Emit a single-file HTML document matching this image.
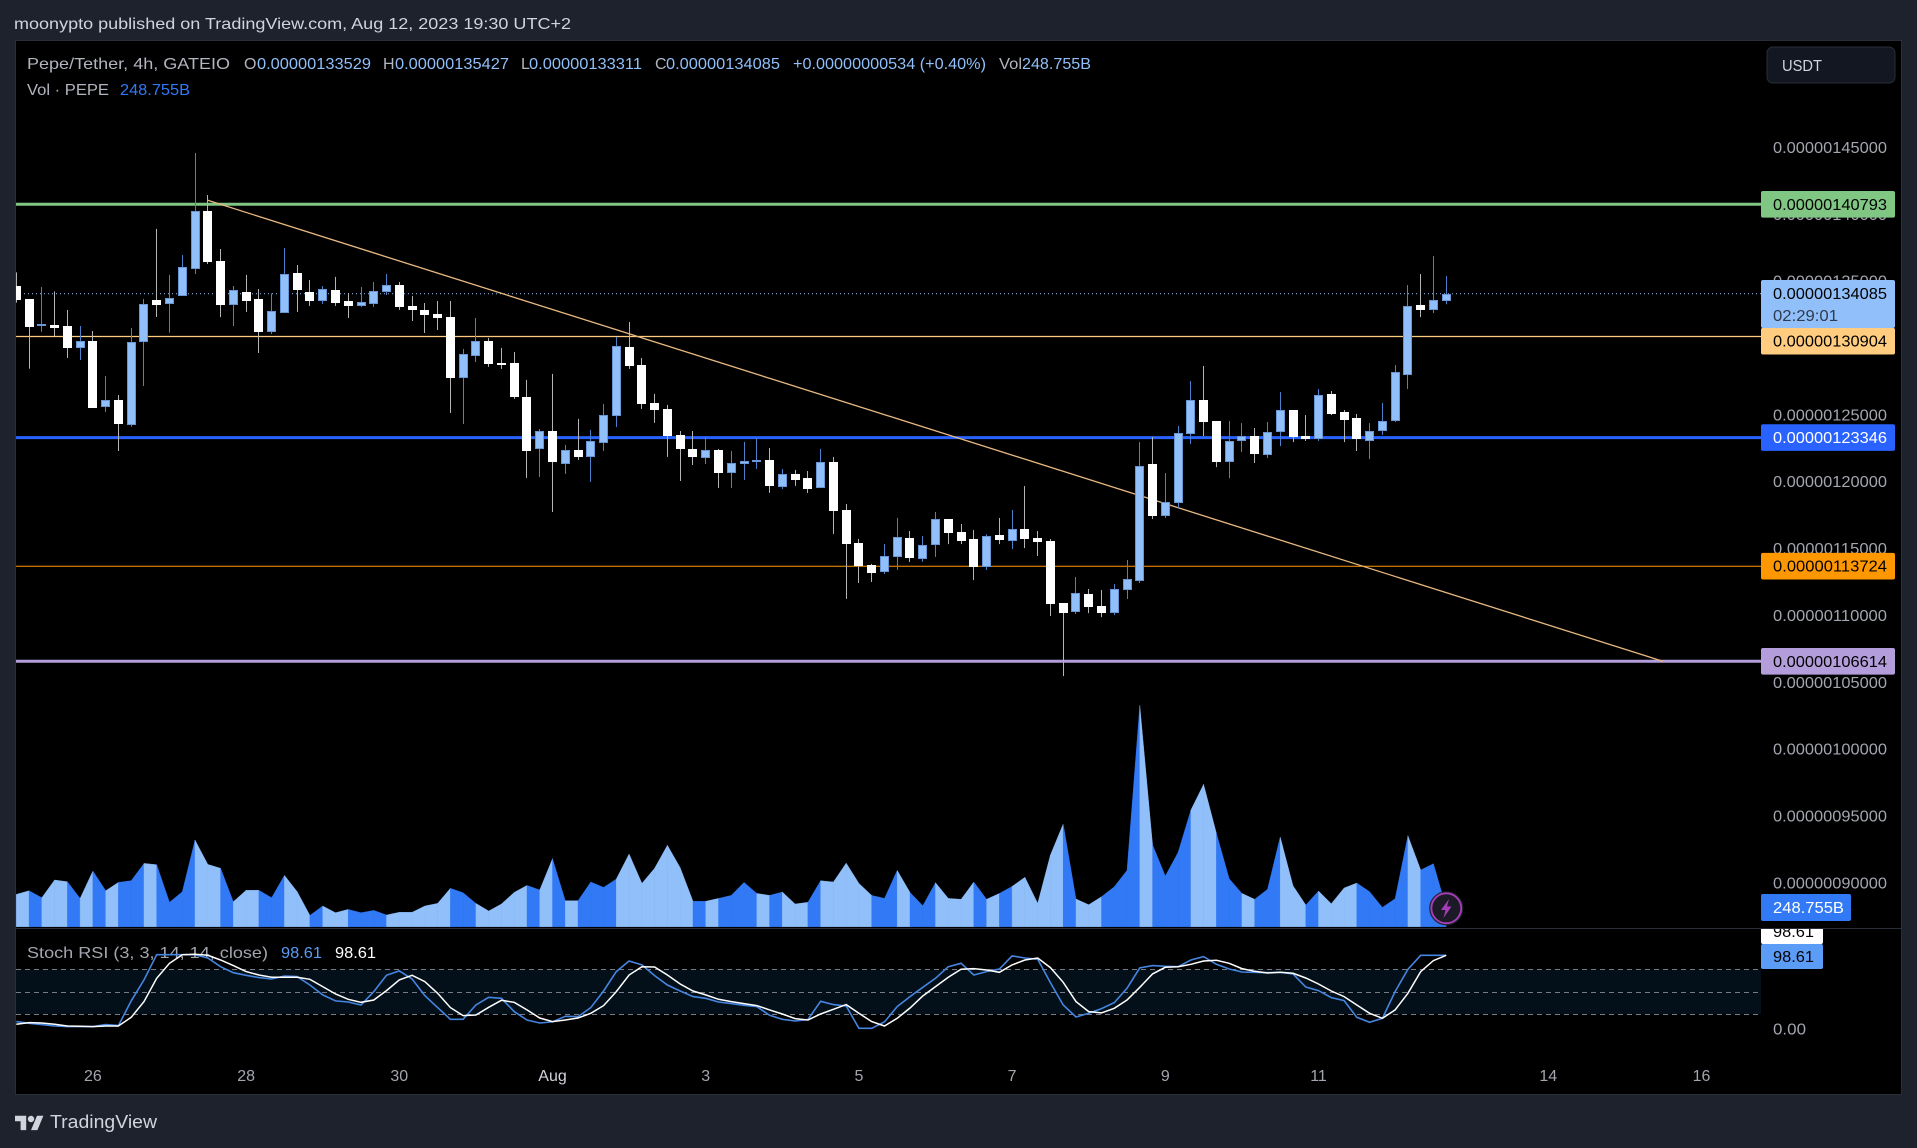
<!DOCTYPE html>
<html lang="en">
<head>
<meta charset="utf-8">
<title>Pepe/Tether 4h chart</title>
<style>
html,body{margin:0;padding:0;background:#1e222d;width:1917px;height:1148px;overflow:hidden}
svg{display:block}
text{font-family:"Liberation Sans",Arial,sans-serif;font-size:16px}
</style>
</head>
<body>
<svg id="root" xmlns="http://www.w3.org/2000/svg" width="1917" height="1148" viewBox="0 0 1917 1148">
  <defs>
    <clipPath id="plot-clip"><rect x="16" y="41" width="1745" height="887"/></clipPath>
    <clipPath id="stoch-clip"><rect x="16" y="929" width="1745" height="130"/></clipPath>
    <clipPath id="scale-clip"><rect x="1761" y="929" width="140" height="165"/></clipPath>
  </defs>
  <rect x="0" y="0" width="1917" height="1148" fill="#1e222d"/>
  <text x="14" y="29" fill="#d1d4dc" textLength="557" lengthAdjust="spacingAndGlyphs">moonypto published on TradingView.com, Aug 12, 2023 19:30 UTC+2</text>
  <rect x="15.5" y="40.5" width="1886" height="1054" fill="#000" stroke="#2a2e39"/>
  <g id="price-ticks"></g>
  <g id="time-ticks"></g>
  <g clip-path="url(#plot-clip)">
    <g id="levels"></g>
    <line id="last-price-line" stroke="#90bff9" stroke-width="1" stroke-dasharray="1 3"/>
    <line id="trendline" stroke="#e8b980" stroke-width="1.3"/>
    <g id="volume"></g>
    <g id="candles"></g>
  </g>
  <line x1="16" x2="1901" y1="928.5" y2="928.5" stroke="#2a2e39"/>
  <g id="stoch-guides"></g>
  <g>
    <text x="27" y="958" fill="#a3a6af" textLength="241" lengthAdjust="spacingAndGlyphs">Stoch RSI (3, 3, 14, 14, close)</text>
    <text x="281" y="958" fill="#5b9cf6" textLength="41" lengthAdjust="spacingAndGlyphs">98.61</text>
    <text x="335" y="958" fill="#ffffff" textLength="41" lengthAdjust="spacingAndGlyphs">98.61</text>
  </g>
  <g clip-path="url(#stoch-clip)">
    <path id="stoch-k" fill="none" stroke="#4585e0" stroke-width="1.6"/>
    <path id="stoch-d" fill="none" stroke="#ffffff" stroke-width="1.5"/>
  </g>
  <g id="level-labels"></g>
  <g>
    <text x="27" y="69" fill="#b2b5be" textLength="203" lengthAdjust="spacingAndGlyphs">Pepe/Tether, 4h, GATEIO</text>
    <text x="244" y="69" fill="#b2b5be">O</text>
    <text x="257" y="69" fill="#90bff9" textLength="114" lengthAdjust="spacingAndGlyphs">0.00000133529</text>
    <text x="383" y="69" fill="#b2b5be">H</text>
    <text x="395" y="69" fill="#90bff9" textLength="114" lengthAdjust="spacingAndGlyphs">0.00000135427</text>
    <text x="521" y="69" fill="#b2b5be">L</text>
    <text x="529" y="69" fill="#90bff9" textLength="113" lengthAdjust="spacingAndGlyphs">0.00000133311</text>
    <text x="655" y="69" fill="#b2b5be">C</text>
    <text x="666" y="69" fill="#90bff9" textLength="114" lengthAdjust="spacingAndGlyphs">0.00000134085</text>
    <text x="793" y="69" fill="#90bff9" textLength="193" lengthAdjust="spacingAndGlyphs">+0.00000000534 (+0.40%)</text>
    <text x="999" y="69" fill="#b2b5be" textLength="23" lengthAdjust="spacingAndGlyphs">Vol</text>
    <text x="1022" y="69" fill="#90bff9" textLength="69" lengthAdjust="spacingAndGlyphs">248.755B</text>
    <text x="27" y="95" fill="#b2b5be" textLength="82" lengthAdjust="spacingAndGlyphs">Vol · PEPE</text>
    <text x="120" y="95" fill="#3179f5" textLength="70" lengthAdjust="spacingAndGlyphs">248.755B</text>
  </g>
  <g>
    <rect x="1767" y="47" width="128" height="36" rx="6" fill="#131722" stroke="#2a2e39"/>
    <text x="1782" y="71" fill="#d1d4dc" textLength="40" lengthAdjust="spacingAndGlyphs">USDT</text>
  </g>
  <g>
    <circle cx="1446.3" cy="908.3" r="15" fill="#1c1a26" stroke="#a63db8" stroke-width="2"/>
    <circle cx="1446.3" cy="908.3" r="16.5" fill="none" stroke="#20222c" stroke-width="1.2"/>
    <polygon points="1449,899 1441,910 1445.5,910 1443.5,918 1451.5,906.5 1447,906.5" fill="#a63db8"/>
  </g>
  <g>
    <path fill="#d1d4dc" transform="translate(15 1112.5) scale(.8)" d="M14 22H7V11H0V4h14v18zM28 22h-8l7.5-18h8L28 22z"/>
    <circle cx="31" cy="1119" r="3.2" fill="#d1d4dc"/>
    <text x="50" y="1128" fill="#d1d4dc" style="font-size:18px" textLength="107" lengthAdjust="spacingAndGlyphs">TradingView</text>
  </g>
</svg>
<script>
// Prices are in units of 0.00000001 USDT; volumes in billions of PEPE.
const openP = [134.68,133.71,131.69,131.77,131.69,130.07,130.57,125.66,126.16,124.31,130.52,133.64,133.36,133.96,135.98,140.29,136.55,133.29,134.23,133.71,131.27,132.69,135.66,134.23,133.59,134.38,133.56,133.21,133.36,134.26,134.76,133.19,132.89,132.59,132.36,127.83,129.48,130.55,128.93,128.93,126.39,122.52,123.84,121.40,122.42,121.92,122.97,124.99,130.12,128.78,125.94,125.49,123.54,122.50,121.85,122.42,120.73,121.40,121.55,121.67,119.68,120.63,120.33,119.60,121.52,117.93,115.47,113.82,113.32,114.44,115.84,114.29,115.34,117.23,116.28,115.76,113.69,116.06,115.63,116.48,115.83,115.61,110.97,110.32,111.64,110.75,110.25,111.97,112.64,121.37,117.50,118.48,123.64,126.15,124.58,121.54,123.11,123.46,122.07,123.79,125.41,123.46,123.26,126.60,125.26,124.81,123.11,123.86,124.58,128.05,133.26,132.91,133.529];
const highP = [135.70,133.71,134.61,134.28,132.89,131.69,131.32,127.95,126.53,131.54,133.71,138.95,135.51,137.00,144.63,141.49,137.45,134.68,135.51,134.46,134.13,137.52,136.25,135.13,134.68,135.36,134.16,134.61,134.98,135.58,134.98,133.93,133.41,133.56,133.56,129.97,132.29,130.80,130.05,129.75,127.66,123.99,128.11,122.80,124.74,123.92,125.86,130.87,131.99,129.30,126.61,125.79,123.84,123.84,123.39,122.50,122.35,123.02,123.32,122.57,121.00,120.93,120.85,122.50,121.90,118.38,115.77,113.90,115.39,117.34,116.36,115.99,117.78,117.23,116.88,116.43,116.11,117.33,117.93,119.72,116.36,115.76,110.97,112.92,112.02,111.94,112.39,114.19,123.01,123.39,120.69,124.21,127.57,128.70,124.58,124.58,124.43,124.06,124.51,126.75,125.41,125.03,126.98,126.83,125.41,125.11,124.43,125.93,128.77,134.75,135.58,136.92,135.427];
const lowP = [133.44,128.50,131.27,130.94,129.30,129.15,125.56,125.26,122.34,124.16,127.20,132.36,131.19,133.96,135.58,136.33,132.36,131.69,132.74,129.67,131.09,132.69,132.74,133.19,133.34,133.19,132.29,133.11,133.11,134.01,132.89,132.07,131.17,131.39,125.18,124.36,129.00,128.63,128.48,126.24,120.33,120.40,117.78,120.63,121.67,120.03,122.35,124.14,128.48,125.49,124.44,121.90,120.10,121.30,121.37,119.58,119.58,120.18,121.00,119.21,119.50,119.73,119.21,119.60,116.14,111.28,112.47,112.55,113.15,113.45,114.05,114.05,114.42,115.38,115.38,112.69,113.44,115.38,115.01,115.08,114.49,110.00,105.51,110.15,110.22,109.92,110.07,111.27,112.47,117.25,117.33,118.08,122.86,123.46,121.14,120.32,122.26,121.44,121.82,122.71,123.01,123.09,123.09,125.03,123.01,122.34,121.74,123.54,124.51,126.98,132.36,132.66,133.311];
const closeP = [133.64,131.62,131.84,131.54,130.05,130.54,125.56,126.13,124.36,130.47,133.31,133.26,133.76,136.08,140.27,136.48,133.26,134.36,133.56,131.24,132.79,135.56,134.38,133.56,134.43,133.41,133.19,133.46,134.28,134.73,133.11,132.89,132.51,132.29,127.80,129.57,130.55,128.85,128.80,126.39,122.35,123.82,121.52,122.40,121.90,123.07,125.01,130.17,128.70,125.86,125.41,123.47,122.50,121.90,122.40,120.70,121.42,121.57,121.65,119.73,120.60,120.18,119.50,121.50,117.86,115.39,113.75,113.22,114.47,115.89,114.34,115.29,117.24,116.21,115.61,113.66,115.96,115.68,116.48,115.76,115.53,110.90,110.22,111.69,110.67,110.22,111.99,112.74,121.19,117.48,118.50,123.66,126.13,124.51,121.52,123.06,123.44,122.12,123.74,125.38,123.39,123.24,126.50,125.11,124.66,123.24,123.81,124.56,128.22,133.16,132.88,133.61,134.085];
const volumes = [423,471,380,611,589,371,729,471,580,602,829,812,319,458,1134,816,764,327,476,476,380,672,458,148,271,183,227,183,214,153,188,188,271,305,502,445,305,205,297,449,541,480,890,340,340,585,515,624,951,567,764,1065,772,332,332,371,410,580,436,410,454,297,319,602,585,833,567,410,371,737,449,275,576,371,358,585,358,436,528,646,305,938,1344,362,288,393,524,737,2897,1069,663,973,1527,1863,1222,628,436,358,489,1174,537,284,467,301,506,572,458,253,366,1191,742,825,248.755];
const stochK = [10.2,8.0,6.2,4.4,3.6,3.6,3.6,6.2,4.9,37.8,65.8,99.5,99.5,99.5,99.5,95.1,83.5,75.5,72.0,68.9,67.1,71.1,70.2,59.1,45.8,37.8,36.4,32.4,50.2,72.0,77.8,67.1,44.9,28.9,13.3,13.3,32.4,42.7,41.3,23.6,12.4,8.4,9.8,17.3,16.9,28.9,51.1,76.9,91.1,85.8,71.6,59.1,51.1,43.6,41.3,36.4,34.2,32.0,30.2,18.7,13.3,11.1,12.9,37.3,32.9,31.1,1.3,1.3,9.8,30.2,43.6,56.0,68.0,83.5,88.0,72.4,76.9,80.4,97.8,95.1,93.3,62.2,32.4,16.4,21.3,27.6,35.6,54.7,81.8,84.9,84.0,83.5,92.4,96.9,86.7,80.4,76.4,76.0,75.5,76.0,73.8,56.4,51.6,42.2,38.2,16.0,9.3,14.7,50.2,80.0,98.61,98.61,98.61];
const stochD = [6.7,8.9,8.4,6.7,4.4,4.0,3.6,4.4,4.4,16.0,36.9,68.0,88.0,99.5,100,98.6,92.4,84.9,76.9,72.4,69.3,69.3,69.3,66.7,56.9,47.1,40.0,36.0,39.1,51.6,65.8,72.0,63.6,48.0,28.9,18.2,19.1,29.3,38.7,36.0,25.8,15.1,10.2,12.4,15.1,21.3,31.6,50.2,72.4,83.5,83.1,72.4,60.4,51.1,45.8,40.0,36.9,34.2,31.6,25.8,20.4,14.2,12.4,20.4,26.7,32.9,21.3,10.2,4.4,14.7,28.4,44.4,56.9,69.3,80.0,80.9,79.1,76.0,85.8,92.4,95.1,82.2,62.7,36.9,23.6,21.8,28.0,39.1,56.0,73.8,82.7,83.5,86.7,91.1,92.0,88.0,80.9,77.3,75.1,76.0,74.7,68.4,60.4,51.1,43.6,32.4,21.3,14.7,25.8,48.0,76.9,91.6,98.61];
const priceTicks = [145,140,135,130,125,120,115,110,105,100,95,90];
const timeTickLabels = ['26','28','30','Aug','3','5','7','9','11','14','16'];
const timeTickIndex = [6,18,30,42,54,66,78,90,102,120,132];
const levelPrices = [140.793,130.904,123.346,113.724,106.614];
const trendIndex = [15,129];
const trendPrice = [141.09,106.61];
const stochBands = [80,50,20];

// Axis functions
function xAt(i){ return 16.3 + 12.767 * i; }
function yPrice(p){ return 204.3 + (140.793 - p) * 13.371; }
function yVolume(v){ return 926.7 - v * 0.0764; }
function yStoch(s){ return 1029.3 - s * 0.75; }
function fmtPrice(p){ return (p / 1e8).toFixed(11); }

const NS = 'http://www.w3.org/2000/svg';
function mk(parent, tag, attrs, content){
  const el = document.createElementNS(NS, tag);
  for (const k in attrs) el.setAttribute(k, attrs[k]);
  if (content !== undefined) el.textContent = content;
  parent.appendChild(el);
  return el;
}
const levelLook = [
  {line:'#81c784', w:3,   bg:'#81c784', fg:'#000', shift:0},
  {line:'#ffcc80', w:1.3, bg:'#ffcc80', fg:'#000', shift:4.7},
  {line:'#2962ff', w:3,   bg:'#2962ff', fg:'#fff', shift:0},
  {line:'#ff9800', w:1,   bg:'#ff9800', fg:'#000', shift:0},
  {line:'#b39ddb', w:3,   bg:'#b39ddb', fg:'#000', shift:0}
];

// Price axis ticks
const priceG = document.getElementById('price-ticks');
priceTicks.forEach(function(p){
  const t = mk(priceG, 'text', {x:1773, y:(yPrice(p) - 0.6 + 5.5).toFixed(1), fill:'#a3a6af', textLength:114, lengthAdjust:'spacingAndGlyphs'}, fmtPrice(p));
  
  
});
const zeroTick = mk(priceG, 'text', {x:1773, y:(yStoch(0) + 5).toFixed(1), fill:'#a3a6af', textLength:33, lengthAdjust:'spacingAndGlyphs'}, '0.00');



// Time axis ticks
const timeG = document.getElementById('time-ticks');
timeTickLabels.forEach(function(lab, k){
  const t = mk(timeG, 'text', {x:xAt(timeTickIndex[k]).toFixed(1), y:1081, fill:lab === 'Aug' ? '#d1d4dc' : '#a3a6af', 'text-anchor':'middle'}, lab);
  
  
});

// Horizontal levels
const levelsG = document.getElementById('levels');
levelPrices.forEach(function(p, k){
  const y = yPrice(p);
  const l = mk(levelsG, 'line', {x1:16, x2:1761, y1:y.toFixed(1), y2:y.toFixed(1), stroke:levelLook[k].line, 'stroke-width':levelLook[k].w});
  
  
});

// Last price dotted line
const lastIdx = closeP.length - 1;
const lastLine = document.getElementById('last-price-line');
lastLine.setAttribute('x1', 16);
lastLine.setAttribute('x2', 1761);
lastLine.setAttribute('y1', (yPrice(closeP[lastIdx]) - 0.2).toFixed(1));
lastLine.setAttribute('y2', (yPrice(closeP[lastIdx]) - 0.2).toFixed(1));

// Trendline
const trend = document.getElementById('trendline');
trend.setAttribute('x1', xAt(trendIndex[0]).toFixed(1));
trend.setAttribute('y1', yPrice(trendPrice[0]).toFixed(1));
trend.setAttribute('x2', xAt(trendIndex[1]).toFixed(1));
trend.setAttribute('y2', yPrice(trendPrice[1]).toFixed(1));

// Volume area: each segment takes its colour from the candle on its right
const volG = document.getElementById('volume');
for (let i = 0; i < volumes.length - 1; i++){
  const up = closeP[i + 1] >= openP[i + 1];
  const col = up ? '#3179f5' : '#90bff9';
  const base = yVolume(0);
  const pts = [
    xAt(i).toFixed(1) + ',' + base.toFixed(1),
    xAt(i).toFixed(1) + ',' + yVolume(volumes[i]).toFixed(1),
    xAt(i + 1).toFixed(1) + ',' + yVolume(volumes[i + 1]).toFixed(1),
    xAt(i + 1).toFixed(1) + ',' + base.toFixed(1)
  ].join(' ');
  const seg = mk(volG, 'polygon', {points:pts, fill:col, stroke:col, 'stroke-width':0.4});
  
  
}

// Candles
const candleG = document.getElementById('candles');
for (let i = 0; i < openP.length; i++){
  const up = closeP[i] >= openP[i];
  const left = Math.round(xAt(i) - 4.5);
  const top = Math.round(yPrice(Math.max(openP[i], closeP[i])));
  const bot = Math.round(yPrice(Math.min(openP[i], closeP[i])));
  const hi = yPrice(highP[i]);
  const lo = yPrice(lowP[i]);
  const wick = mk(candleG, 'rect', {x:left + 4, y:hi.toFixed(1), width:1, height:(lo - hi).toFixed(1), fill:up ? '#4a80cc' : '#b4b4b4'});
  
  
  let body;
  if (up) {
    body = mk(candleG, 'rect', {x:left + 0.5, y:top + 0.5, width:8, height:Math.max(bot - top - 1, 1), fill:'#90bff9', stroke:'#6896d6', 'stroke-width':1});
  } else {
    body = mk(candleG, 'rect', {x:left, y:top, width:9, height:Math.max(bot - top, 2), fill:'#ffffff'});
  }
  
  
}

// Stoch RSI guides
const guideG = document.getElementById('stoch-guides');
const band = mk(guideG, 'rect', {x:16, y:yStoch(stochBands[0]).toFixed(1), width:1745, height:(yStoch(stochBands[2]) - yStoch(stochBands[0])).toFixed(1), fill:'#03101a'});


stochBands.forEach(function(s){
  const y = Math.round(yStoch(s)) + 0.5;
  const l = mk(guideG, 'line', {x1:16, x2:1761, y1:y, y2:y, stroke:'#787b86', 'stroke-dasharray':'5 4'});
  
  
});

// Stoch RSI lines
function stochPath(arr){
  return arr.map(function(v, i){ return (i ? 'L' : 'M') + xAt(i).toFixed(1) + ' ' + yStoch(v).toFixed(1); }).join('');
}
document.getElementById('stoch-k').setAttribute('d', stochPath(stochK));
document.getElementById('stoch-d').setAttribute('d', stochPath(stochD));

// Right-hand value labels
const labelG = document.getElementById('level-labels');
function tag(parentName, cy, h, bg, fg, w, str, tw){
  const r = mk(labelG, 'rect', {x:1761, y:(cy - h / 2).toFixed(1), width:w, height:h, rx:2, fill:bg});
  
  
  const t = mk(labelG, 'text', {x:1773, y:(cy + 5.5).toFixed(1), fill:fg, textLength:tw, lengthAdjust:'spacingAndGlyphs'}, str);
  
  
}
levelPrices.forEach(function(p, k){
  tag('level-label', yPrice(p) + levelLook[k].shift, 26.6, levelLook[k].bg, levelLook[k].fg, 134, fmtPrice(p), 114);
});

// Current price label with countdown
const priceBox = mk(labelG, 'rect', {x:1761, y:280, width:134, height:48, rx:2, fill:'#90bff9'});


const priceText = mk(labelG, 'text', {x:1773, y:299, fill:'#000', textLength:114, lengthAdjust:'spacingAndGlyphs'}, fmtPrice(closeP[lastIdx]));


const countdown = mk(labelG, 'text', {x:1773, y:321, fill:'#2e3a4e', textLength:65, lengthAdjust:'spacingAndGlyphs'}, '02:29:01');



// Volume label
tag('volume-label', 907.5, 27, '#3179f5', '#fff', 90, volumes[lastIdx].toFixed(3) + 'B', 71);

// Stoch labels, clipped by the pane top
const scaleG = mk(labelG, 'g', {'clip-path':'url(#scale-clip)'});


const dBox = mk(scaleG, 'rect', {x:1761, y:919, width:62, height:25, rx:2, fill:'#ffffff'});


const dText = mk(scaleG, 'text', {x:1773, y:937, fill:'#000', textLength:41, lengthAdjust:'spacingAndGlyphs'}, stochD[lastIdx].toFixed(2));


const kBox = mk(scaleG, 'rect', {x:1761, y:944, width:62, height:25, rx:2, fill:'#5b9cf6'});


const kText = mk(scaleG, 'text', {x:1773, y:962, fill:'#000', textLength:41, lengthAdjust:'spacingAndGlyphs'}, stochK[lastIdx].toFixed(2));


</script>
</body>
</html>
